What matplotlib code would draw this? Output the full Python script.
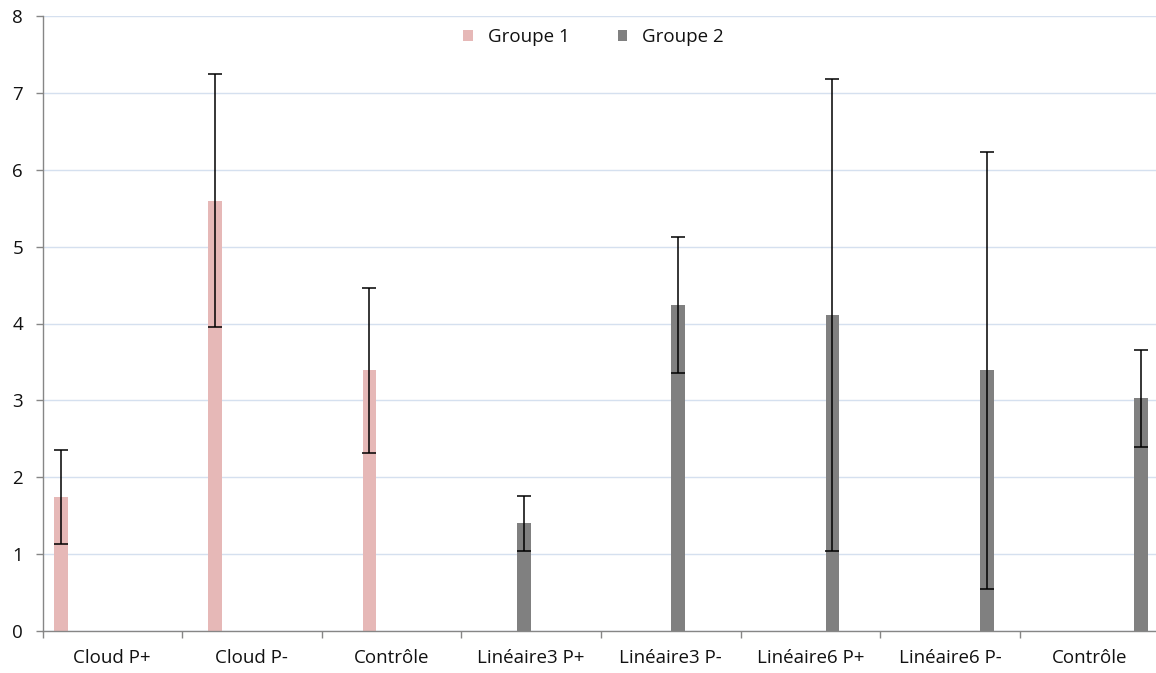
import numpy as np
import matplotlib
matplotlib.use("Agg")
import matplotlib.pyplot as plt

# values
categories = ["Cloud P+", "Cloud P-", "Contrôle", "Linéaire3 P+", "Linéaire3 P-",
              "Linéaire6 P+", "Linéaire6 P-", "Contrôle"]
groupe1_mean = [1.74, 5.60, 3.39, np.nan, np.nan, np.nan, np.nan, np.nan]
groupe1_err = [0.61, 1.65, 1.07, 0, 0, 0, 0, 0]
groupe2_mean = [np.nan, np.nan, np.nan, 1.40, 4.24, 4.11, 3.39, 3.03]
groupe2_err = [0, 0, 0, 0.36, 0.89, 3.07, 2.84, 0.63]
yticks = [0, 1, 2, 3, 4, 5, 6, 7, 8]

plt.rcParams["font.family"] = ["Open Sans", "DejaVu Sans"]

COL_G1 = "#e6b8b7"
COL_G2 = "#808080"
AXIS_COL = "#868686"
GRID_COL = "#d5e0ef"
TXT_COL = "#111111"
FS = 13.5

fig = plt.figure(figsize=(11.56, 6.73), dpi=100)
ax = fig.add_axes([42.5 / 1156, 42 / 673, 8 * 139.6 / 1156, 615 / 673])

n = len(categories)
# the bars drift slightly against the category slots in the original
bar_x = 0.131 + 1.1055 * np.arange(n)
bar_w = 0.098

m1 = ~np.isnan(groupe1_mean)
m2 = ~np.isnan(groupe2_mean)
ax.bar(bar_x[m1], np.array(groupe1_mean)[m1], width=bar_w, color=COL_G1, label="Groupe 1", zorder=2)
ax.bar(bar_x[m2], np.array(groupe2_mean)[m2], width=bar_w, color=COL_G2, label="Groupe 2", zorder=2)
ax.errorbar(bar_x[m1], np.array(groupe1_mean)[m1], yerr=np.array(groupe1_err)[m1], fmt="none",
            ecolor="black", elinewidth=1.1, capsize=4.7, capthick=1.1, zorder=3)
ax.errorbar(bar_x[m2], np.array(groupe2_mean)[m2], yerr=np.array(groupe2_err)[m2], fmt="none",
            ecolor="black", elinewidth=1.1, capsize=4.7, capthick=1.1, zorder=3)

ax.set_xlim(0, n)
ax.set_ylim(yticks[0], yticks[-1])
ax.set_yticks(yticks)
ax.yaxis.grid(True, color=GRID_COL, linewidth=1.0, zorder=0)
ax.set_axisbelow(True)

# category borders as major ticks, names on minor ticks at the slot centres
ax.set_xticks(np.arange(n + 1))
ax.set_xticklabels([])
ax.set_xticks(np.arange(n) + 0.5, minor=True)
ax.set_xticklabels(categories, minor=True)
ax.tick_params(axis="x", which="major", length=5, width=1, color=AXIS_COL, direction="out")
ax.tick_params(axis="x", which="minor", length=0, pad=13, labelsize=FS, labelcolor=TXT_COL)
ax.tick_params(axis="y", length=5, width=1, color=AXIS_COL, pad=9, labelsize=FS, labelcolor=TXT_COL)

for side in ("top", "right"):
    ax.spines[side].set_visible(False)
for side in ("left", "bottom"):
    ax.spines[side].set_color(AXIS_COL)
    ax.spines[side].set_linewidth(1.0)

ax.legend(loc="center", bbox_to_anchor=(0.4935, 0.966), ncol=2, frameon=False,
          handlelength=0.5, handleheight=0.5, handletextpad=0.8, columnspacing=2.6,
          fontsize=FS, labelcolor=TXT_COL)

fig.savefig("out.png", dpi=100)
